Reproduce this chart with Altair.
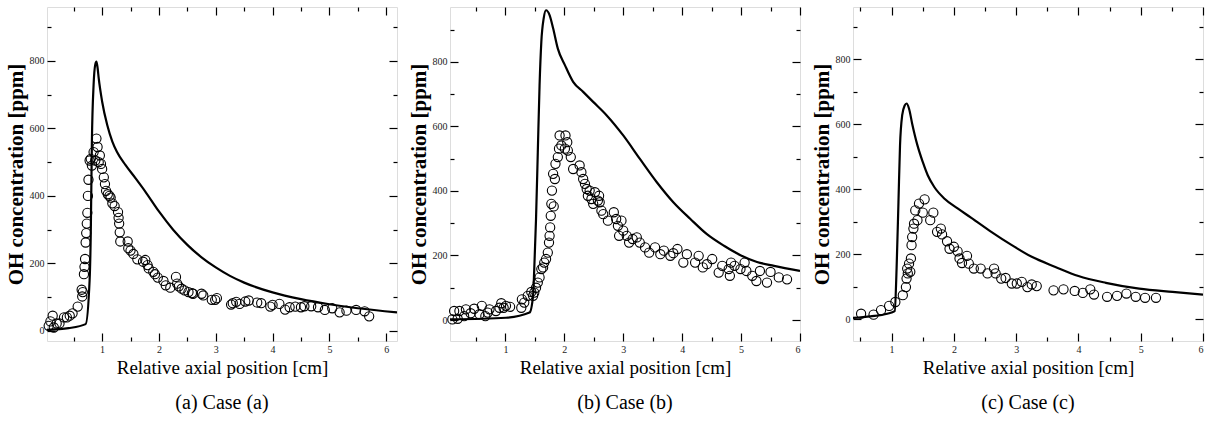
import altair as alt
import pandas as pd

FONT = "Liberation Serif"

# ---------------- Case (a) ----------------
a_line_x = [0.03, 0.41, 0.71, 0.78, 0.80, 0.82, 0.85, 0.88, 0.90, 0.92, 0.94, 1.00, 1.09, 1.18, 1.26,
            1.41, 1.59, 1.76, 2.00, 2.25, 2.50, 2.75, 3.00, 3.25, 3.50, 4.00, 4.50, 5.00, 5.50, 6.19]
a_line_y = [3, 8, 20, 150, 284, 561, 729, 790, 798, 780, 749, 680, 610, 561, 531,
            492, 452, 413, 354, 300, 255, 218, 188, 163, 143, 114, 94, 79, 67, 55]
a_pts_x = [0.06, 0.09, 0.13, 0.15, 0.20, 0.25, 0.33, 0.38, 0.43, 0.48, 0.57, 0.64, 0.65, 0.66,
           0.68, 0.69, 0.70, 0.71, 0.72, 0.73, 0.74, 0.75, 0.76, 0.78, 0.80, 0.82, 0.85, 0.88,
           0.90, 0.92, 0.94, 0.96, 0.98, 1.00, 1.03, 1.05, 1.07, 1.10, 1.13, 1.15, 1.18, 1.22,
           1.28, 1.29, 1.30, 1.31, 1.32, 1.45, 1.46, 1.50, 1.55, 1.62, 1.72, 1.76, 1.80, 1.82,
           1.90, 1.93, 1.98, 2.08, 2.12, 2.20, 2.30, 2.32, 2.35, 2.40, 2.45, 2.52, 2.58, 2.60,
           2.75, 2.78, 2.93, 2.99, 3.02, 3.27, 3.30, 3.36, 3.42, 3.52, 3.58, 3.73, 3.80, 3.96,
           4.00, 4.12, 4.22, 4.30, 4.40, 4.50, 4.56, 4.68, 4.80, 4.92, 5.05, 5.18, 5.30, 5.47,
           5.62, 5.70]
a_pts_y = [15, 28, 45, 10, 22, 22, 40, 40, 45, 52, 72, 122, 102, 115,
           168, 190, 213, 262, 290, 318, 350, 400, 448, 505, 510, 490, 530, 505,
           570, 545, 500, 520, 495, 480, 455, 435, 415, 405, 400, 395, 378, 370,
           352, 335, 318, 292, 265, 265, 245, 238, 228, 212, 205, 210, 195, 185,
           175, 168, 158, 148, 135, 128, 160, 140, 132, 125, 120, 115, 112, 110,
           110, 105, 92, 92, 97, 78, 82, 86, 80, 87, 90, 84, 82, 72,
           77, 80, 63, 70, 72, 70, 73, 73, 70, 62, 67, 55, 60, 62,
           58, 43]

# ---------------- Case (b) ----------------
b_line_x = [0.06, 1.01, 1.41, 1.47, 1.49, 1.52, 1.55, 1.58, 1.61, 1.65, 1.69, 1.75, 1.81,
            1.89, 2.01, 2.15, 2.32, 2.49, 2.72, 3.00, 3.28, 3.57, 3.85, 4.14, 4.42, 4.71,
            4.99, 5.27, 5.56, 6.00]
b_line_y = [2, 7, 23, 75, 158, 313, 520, 727, 862, 935, 960, 945, 904,
            841, 790, 738, 707, 676, 634, 572, 500, 427, 365, 313, 266, 230,
            201, 180, 168, 152]
b_pts_x = [0.10, 0.13, 0.19, 0.22, 0.30, 0.33, 0.41, 0.47, 0.56, 0.60, 0.66, 0.70, 0.73, 0.84,
           0.90, 0.93, 0.97, 1.01, 1.08, 1.27, 1.28, 1.32, 1.38, 1.44, 1.47, 1.49, 1.52, 1.55,
           1.58, 1.61, 1.64, 1.66, 1.69, 1.72, 1.74, 1.75, 1.76, 1.77, 1.78, 1.79, 1.82, 1.81,
           1.84, 1.85, 1.89, 1.91, 1.92, 1.95, 2.01, 2.02, 2.05, 2.06, 2.11, 2.15, 2.26, 2.29,
           2.32, 2.35, 2.38, 2.40, 2.43, 2.46, 2.49, 2.52, 2.57, 2.59, 2.60, 2.63, 2.66, 2.74,
           2.84, 2.88, 2.91, 2.93, 2.97, 3.00, 3.06, 3.10, 3.16, 3.23, 3.28, 3.37, 3.44, 3.54,
           3.63, 3.69, 3.80, 3.85, 3.92, 4.02, 4.08, 4.22, 4.28, 4.35, 4.42, 4.51, 4.62, 4.68,
           4.79, 4.81, 4.83, 4.89, 4.99, 5.06, 5.09, 5.19, 5.26, 5.32, 5.44, 5.50, 5.64, 5.78]
b_pts_y = [2, 28, 4, 28, 12, 33, 21, 35, 18, 44, 12, 23, 33, 28,
           38, 52, 38, 44, 41, 38, 64, 54, 75, 87, 75, 85, 100, 116,
           132, 158, 163, 178, 189, 209, 240, 261, 287, 323, 360, 401, 352, 453,
           437, 484, 505, 531, 572, 541, 531, 572, 551, 525, 505, 468, 479, 458,
           437, 422, 406, 385, 401, 375, 360, 396, 370, 385, 365, 339, 328, 308,
           334, 313, 292, 261, 308, 277, 261, 240, 251, 256, 240, 225, 209, 225,
           204, 215, 199, 207, 220, 178, 204, 178, 199, 163, 173, 189, 147, 168,
           158, 137, 178, 168, 158, 178, 152, 137, 121, 152, 116, 149, 132, 126]

# ---------------- Case (c) ----------------
c_line_x = [0.38, 0.66, 0.93, 1.05, 1.08, 1.11, 1.135, 1.17, 1.21, 1.24, 1.28, 1.33, 1.415,
            1.50, 1.58, 1.685, 1.85, 2.06, 2.28, 2.60, 2.93, 3.25, 3.63, 4.00, 4.44, 4.975,
            5.51, 6.00]
c_line_y = [4, 9, 17, 25, 156, 361, 535, 628, 658, 664, 648, 602, 535,
            484, 443, 407, 371, 341, 312, 269, 228, 192, 161, 133, 112, 94,
            84, 76]
c_pts_x = [0.51, 0.71, 0.83, 0.96, 1.06, 1.18, 1.23, 1.24, 1.25, 1.26, 1.28, 1.30, 1.31, 1.32,
           1.33, 1.35, 1.36, 1.38, 1.415, 1.44, 1.50, 1.53, 1.62, 1.67, 1.73, 1.79, 1.81, 1.89,
           1.93, 2.00, 2.06, 2.09, 2.13, 2.21, 2.24, 2.32, 2.43, 2.54, 2.645, 2.67, 2.76, 2.83,
           2.93, 3.01, 3.09, 3.18, 3.25, 3.33, 3.60, 3.76, 3.94, 4.07, 4.19, 4.25, 4.46, 4.62,
           4.77, 4.92, 5.07, 5.245]
c_pts_y = [17, 14, 28, 41, 53, 74, 99, 125, 156, 141, 171, 146, 187, 228,
           253, 279, 294, 335, 305, 356, 328, 369, 305, 328, 269, 279, 261, 240,
           217, 223, 209, 187, 173, 195, 171, 156, 156, 141, 156, 141, 125, 127,
           110, 110, 115, 99, 107, 102, 89, 92, 87, 81, 92, 76, 69, 72,
           79, 69, 66, 66]

Y_MAJOR = [0, 200, 400, 600, 800]
Y_MINOR = [100, 300, 500, 700, 900]
X_MAJOR = [1, 2, 3, 4, 5, 6]
X_MINOR = [0.5, 1.5, 2.5, 3.5, 4.5, 5.5]

MAJ = 8
MIN = 4


def make_axis(orient, values, size, labels=False, title=None):
    kw = dict(orient=orient, values=values, tickSize=size, offset=-size, domain=False,
              grid=False, labels=labels, tickColor="black", tickWidth=1.2)
    if labels:
        kw.update(labelFont=FONT, labelFontSize=10, labelColor="#222",
                  labelPadding=3)
    if title is not None:
        big = orient in ("left", "right")
        kw.update(title=title, titleFont=FONT,
                  titleFontWeight="bold" if big else "normal",
                  titleColor="black",
                  titleFontSize=21 if big else 19,
                  titlePadding=3 if big else 4)
    else:
        kw["title"] = None
    return alt.Axis(**kw)


def panel(line_x, line_y, pts_x, pts_y, xdom, ydom, caption, width):
    line_df = pd.DataFrame({"x": line_x, "y": line_y})
    pts_df = pd.DataFrame({"x": pts_x, "y": pts_y})
    xs = alt.Scale(domain=xdom, nice=False, zero=False)
    ys = alt.Scale(domain=ydom, nice=False, zero=False)
    xmin = [v for v in X_MINOR if xdom[0] <= v <= xdom[1]]
    xmaj = [v for v in X_MAJOR if xdom[0] <= v <= xdom[1]]

    l1 = alt.Chart(line_df).mark_line(color="black", strokeWidth=2.2, clip=True,
                                      interpolate="monotone").encode(
        x=alt.X("x:Q", scale=xs, axis=make_axis("bottom", xmaj, MAJ, True,
                                                  "Relative axial position [cm]")),
        y=alt.Y("y:Q", scale=ys, axis=make_axis("left", Y_MAJOR, MAJ, True,
                                                  "OH concentration [ppm]")),
    )
    l2 = alt.Chart(pts_df).mark_point(shape="circle", filled=False, color="black",
                                      size=85, strokeWidth=1.1, opacity=1).encode(
        x=alt.X("x:Q", scale=xs, axis=make_axis("bottom", xmin, MIN)),
        y=alt.Y("y:Q", scale=ys, axis=make_axis("left", Y_MINOR, MIN)),
    )
    l3 = alt.Chart(line_df).mark_line(opacity=0).encode(
        x=alt.X("x:Q", scale=xs, axis=make_axis("top", xmaj, MAJ)),
        y=alt.Y("y:Q", scale=ys, axis=make_axis("right", Y_MAJOR, MAJ)),
    )
    l4 = alt.Chart(line_df).mark_line(opacity=0).encode(
        x=alt.X("x:Q", scale=xs, axis=make_axis("top", xmin, MIN)),
        y=alt.Y("y:Q", scale=ys, axis=make_axis("right", Y_MINOR, MIN)),
    )
    return alt.layer(l1, l2, l3, l4).resolve_axis(x="independent", y="independent").properties(
        width=width, height=334,
        title=alt.TitleParams(caption, orient="bottom", anchor="middle", font=FONT,
                              fontSize=20, fontWeight="normal", color="black", offset=16),
    )


pa = panel(a_line_x, a_line_y, a_pts_x, a_pts_y, [0.03, 6.19], [-30, 960], "(a) Case (a)", 350)
pb = panel(b_line_x, b_line_y, b_pts_x, b_pts_y, [0.06, 6.0], [-65, 970], "(b) Case (b)", 350)
pc = panel(c_line_x, c_line_y, c_pts_x, c_pts_y, [0.38, 6.0], [-67, 961], "(c) Case (c)", 350)

chart = alt.hconcat(pa, pb, pc, spacing=8).properties(
    padding={"left": 4, "top": 5, "right": 5, "bottom": 5}
).configure_view(stroke="black", strokeWidth=1.6).configure(background="white")

chart.save("out.html", embed_options={"renderer": "svg", "actions": False})
